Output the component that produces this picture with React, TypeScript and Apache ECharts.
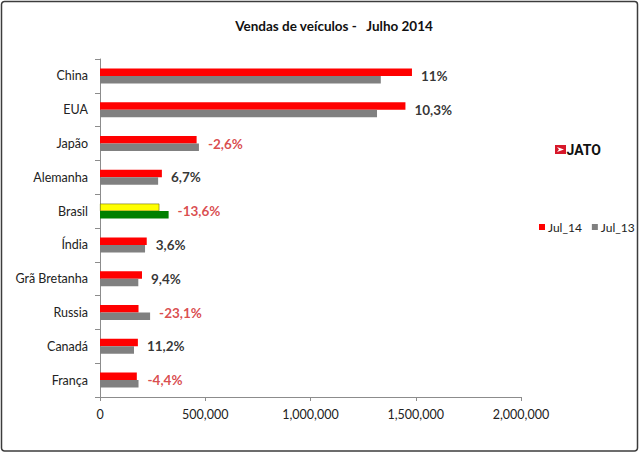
import { useEffect, useRef } from "react";
import * as echarts from "echarts";

const countries = [
  "China",
  "EUA",
  "Japão",
  "Alemanha",
  "Brasil",
  "Índia",
  "Grã Bretanha",
  "Russia",
  "Canadá",
  "França",
];
const jul14 = [1482000, 1451000, 459000, 294000, 282000, 222000, 199500, 183000, 180000, 175000];
const jul13 = [1334000, 1316000, 470000, 276000, 326000, 214000, 182000, 238000, 161500, 183000];
const growthLabels = ["11%", "10,3%", "-2,6%", "6,7%", "-13,6%", "3,6%", "9,4%", "-23,1%", "11,2%", "-4,4%"];
const highlightIndex = 4; // Brasil em destaque
const xMax = 2000000;
const xStep = 500000;

const FONT = "Lato, 'Liberation Sans', sans-serif";

export default function App() {
  const ref = useRef<HTMLDivElement>(null);

  useEffect(() => {
    document.body.style.margin = "0";
    if (!ref.current) return;
    const chart = echarts.init(ref.current, undefined, { renderer: "svg" });

    const fmt = (v: number) => v.toLocaleString("en-US");

    chart.setOption({
      animation: false,
      backgroundColor: "#ffffff",
      textStyle: { fontFamily: FONT },
      title: {
        text: "Vendas de veículos -   Julho 2014",
        left: 329,
        top: 14,
        textAlign: "center",
        textStyle: { fontFamily: FONT, fontSize: 13.5, fontWeight: "bold", color: "#111" },
      },
      legend: {
        data: ["Jul_14", "Jul_13"],
        left: 534,
        top: 216,
        itemWidth: 6,
        itemHeight: 6,
        itemGap: 10,
        icon: "rect",
        textStyle: { fontFamily: FONT, fontSize: 12, color: "#222", padding: [0, 0, 0, -2] },
      },
      grid: { left: 100, right: 119, top: 59, bottom: 56 },
      xAxis: {
        type: "value",
        min: 0,
        max: xMax,
        interval: xStep,
        axisLine: { show: true, lineStyle: { color: "#8c8c8c" } },
        axisTick: { show: true, length: 4, lineStyle: { color: "#8c8c8c" } },
        splitLine: { show: false },
        axisLabel: {
          formatter: (v: number) => fmt(v),
          fontFamily: FONT,
          fontSize: 12.5,
          color: "#222",
          margin: 11,
        },
      },
      yAxis: {
        type: "category",
        data: countries,
        inverse: true,
        axisLine: { show: true, lineStyle: { color: "#8c8c8c" } },
        axisTick: { show: true, length: 5, lineStyle: { color: "#8c8c8c" } },
        axisLabel: { fontFamily: FONT, fontSize: 12.5, color: "#222", margin: 12 },
      },
      series: [
        {
          name: "Jul_14",
          type: "bar",
          barWidth: 7.5,
          barGap: "0%",
          itemStyle: { color: "#ff0000" },
          data: jul14.map((v, i) =>
            i === highlightIndex
              ? { value: v, itemStyle: { color: "#ffff00", borderColor: "#6b6b00", borderWidth: 0.6 } }
              : v,
          ),
        },
        {
          name: "Jul_13",
          type: "bar",
          barWidth: 7.5,
          barGap: "0%",
          itemStyle: { color: "#808080" },
          data: jul13.map((v, i) =>
            i === highlightIndex ? { value: v, itemStyle: { color: "#008000" } } : v,
          ),
        },
        {
          name: "variação",
          type: "scatter",
          symbolSize: 0,
          silent: true,
          // rótulo à direita da barra mais longa; negativos em vermelho
          data: countries.map((c, i) => ({
            value: [Math.max(jul14[i], jul13[i]), c],
            label: { color: growthLabels[i].startsWith("-") ? "#d0201e" : "#000" },
          })),
          label: {
            show: true,
            position: "right",
            distance: 9,
            fontFamily: FONT,
            fontSize: 13.5,
            fontWeight: "bold",
            formatter: (p: { dataIndex: number }) => growthLabels[p.dataIndex],
          },
        },
      ],
      graphic: [
        {
          type: "rect",
          shape: { x: 1.5, y: 1.5, width: 636, height: 449.5, r: 3 },
          style: { fill: "none", stroke: "#3c3c3c", lineWidth: 1.5 },
          silent: true,
          z: 100,
        },
        {
          type: "group",
          x: 555,
          y: 145,
          children: [
            { type: "rect", shape: { x: 0, y: 0, width: 11, height: 9 }, style: { fill: "#d7182a" } },
            {
              type: "polygon",
              shape: { points: [[2, 2], [9, 4.5], [2, 7], [4, 4.5]] },
              style: { fill: "#ffffff" },
            },
            {
              type: "text",
              x: 11.5,
              y: -2,
              style: {
                text: "JATO",
                fontFamily: "'Liberation Sans Narrow', 'Roboto', sans-serif",
                fontSize: 14,
                fontWeight: "bold",
                fill: "#111",
              },
            },
          ],
        },
      ],
    });

    return () => chart.dispose();
  }, []);

  return <div ref={ref} style={{ width: 640, height: 453 }} />;
}
